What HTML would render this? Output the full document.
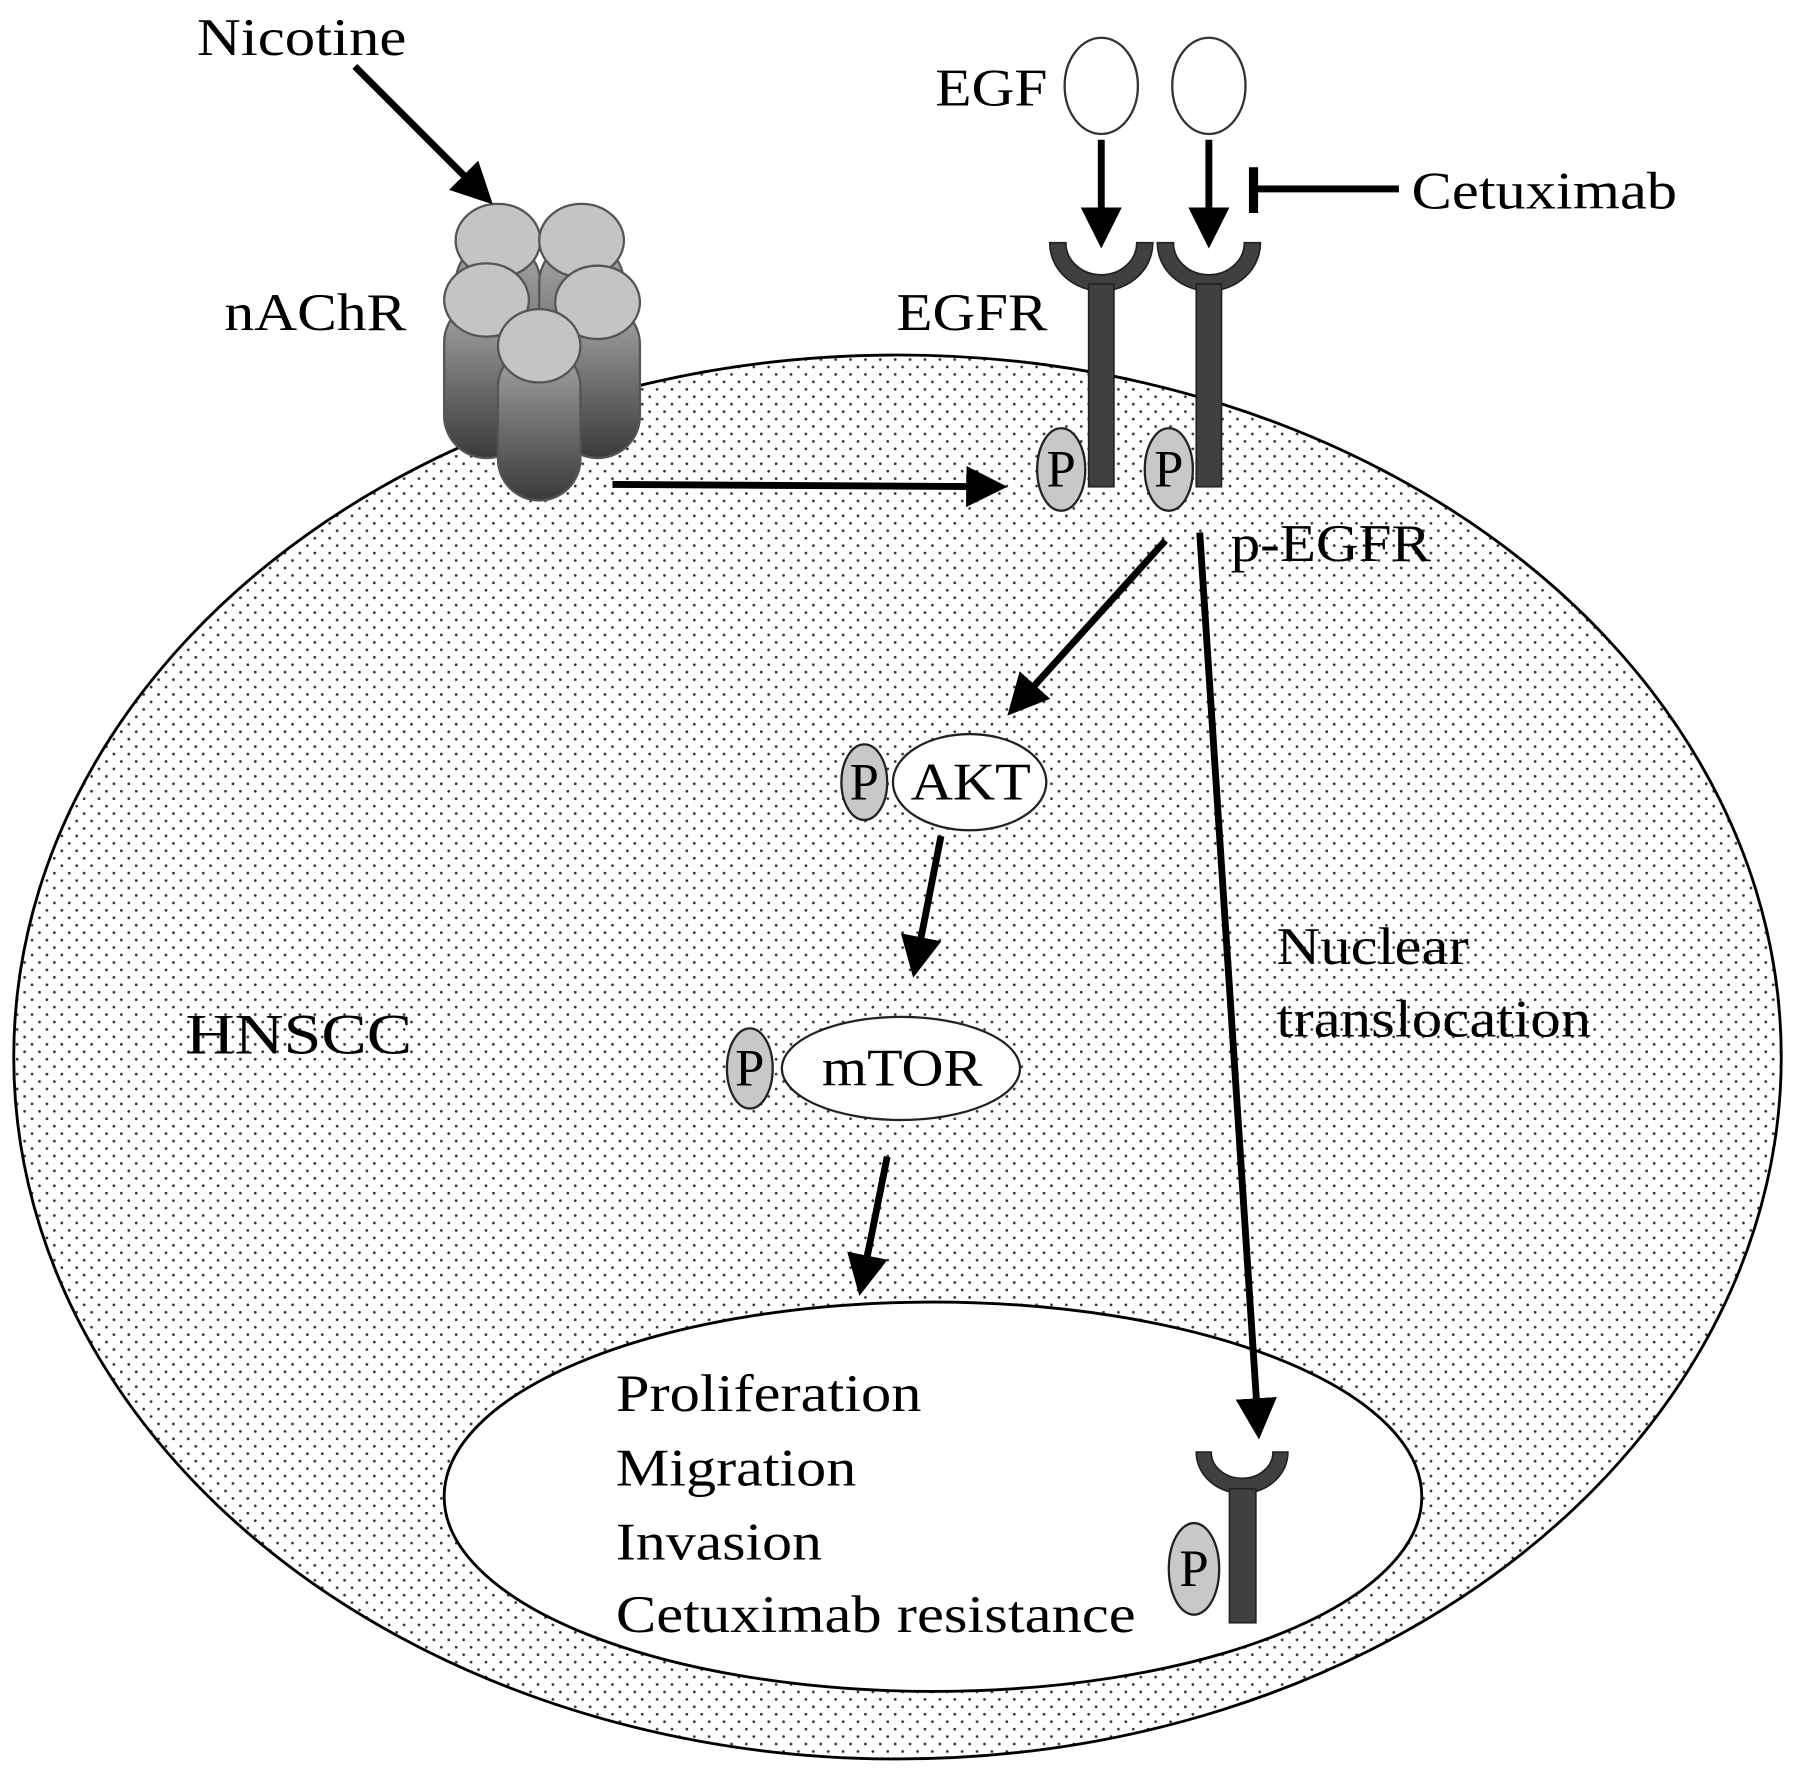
<!DOCTYPE html>
<html><head><meta charset="utf-8"><style>html,body{margin:0;padding:0;background:#fff}svg{display:block}</style></head>
<body>
<svg width="1795" height="1775" viewBox="0 0 1568 1550" preserveAspectRatio="none" xmlns="http://www.w3.org/2000/svg" font-family="Liberation Serif, serif">
<defs>
<pattern id="dots" width="13" height="13" patternUnits="userSpaceOnUse">
<circle cx="2" cy="2" r="1.2" fill="#333"/><circle cx="8.5" cy="8.5" r="1.2" fill="#333"/>
</pattern>
<linearGradient id="cyl" x1="0" y1="0" x2="0" y2="1">
<stop offset="0" stop-color="#a8a8a8"/><stop offset="1" stop-color="#3a3a3a"/>
</linearGradient>
<marker id="ah" markerWidth="6" markerHeight="6" refX="4" refY="3" orient="auto" markerUnits="strokeWidth">
<path d="M0,0 L6,3 L0,6 z" fill="#000"/>
</marker>
</defs>
<ellipse cx="784" cy="923" rx="772" ry="613" fill="url(#dots)" stroke="#000" stroke-width="2.5"/>
<ellipse cx="815" cy="1307" rx="427" ry="170" fill="#fff" stroke="#000" stroke-width="2.5"/>

<!-- nAChR cylinders -->
<g stroke="#555" stroke-width="2">
<rect x="398" y="210" width="74" height="185" rx="37" fill="url(#cyl)"/>
<rect x="471" y="210" width="74" height="185" rx="37" fill="url(#cyl)"/>
<ellipse cx="435" cy="210" rx="37" ry="32" fill="#c4c4c4"/>
<ellipse cx="508" cy="210" rx="37" ry="32" fill="#c4c4c4"/>
<rect x="388" y="262" width="74" height="138" rx="37" fill="url(#cyl)"/>
<rect x="485" y="264" width="74" height="136" rx="37" fill="url(#cyl)"/>
<ellipse cx="425" cy="262" rx="37" ry="32" fill="#c4c4c4"/>
<ellipse cx="522" cy="264" rx="37" ry="32" fill="#c4c4c4"/>
<rect x="435" y="302" width="72" height="135" rx="36" fill="url(#cyl)"/>
<ellipse cx="471" cy="302" rx="36" ry="32" fill="#c4c4c4"/>
</g>

<g font-size="46" fill="#000" lengthAdjust="spacingAndGlyphs">
<text x="172" y="48" textLength="183" lengthAdjust="spacingAndGlyphs">Nicotine</text>
<text x="196" y="288" textLength="159" lengthAdjust="spacingAndGlyphs">nAChR</text>
<text x="817" y="92" textLength="98" lengthAdjust="spacingAndGlyphs">EGF</text>
<text x="783" y="288" textLength="132" lengthAdjust="spacingAndGlyphs">EGFR</text>
<text x="1233" y="182" textLength="232" lengthAdjust="spacingAndGlyphs">Cetuximab</text>
<text x="1075" y="490" textLength="175" lengthAdjust="spacingAndGlyphs">p-EGFR</text>
<text x="1115" y="842" textLength="168" lengthAdjust="spacingAndGlyphs">Nuclear</text>
<text x="1115" y="905" textLength="275" lengthAdjust="spacingAndGlyphs">translocation</text>
<text x="162" y="920" font-size="50" textLength="198" lengthAdjust="spacingAndGlyphs">HNSCC</text>
<text x="538" y="1232" textLength="267" lengthAdjust="spacingAndGlyphs">Proliferation</text>
<text x="538" y="1297" textLength="210" lengthAdjust="spacingAndGlyphs">Migration</text>
<text x="538" y="1362" textLength="180" lengthAdjust="spacingAndGlyphs">Invasion</text>
<text x="538" y="1425" textLength="454" lengthAdjust="spacingAndGlyphs">Cetuximab resistance</text>
</g>

<ellipse cx="962" cy="75" rx="32" ry="42" fill="#fff" stroke="#333" stroke-width="2"/>
<ellipse cx="1056" cy="75" rx="32" ry="42" fill="#fff" stroke="#333" stroke-width="2"/>

<g stroke="#000" stroke-width="6" fill="none">
<line x1="310" y1="58" x2="422" y2="170" marker-end="url(#ah)"/>
<line x1="535" y1="423" x2="868" y2="425" marker-end="url(#ah)"/>
<line x1="962" y1="122" x2="962" y2="205" marker-end="url(#ah)"/>
<line x1="1056" y1="122" x2="1056" y2="205" marker-end="url(#ah)"/>
<line x1="1222" y1="165" x2="1095" y2="165"/>
<line x1="1095" y1="146" x2="1095" y2="186" stroke-width="8"/>
<line x1="1018" y1="472" x2="888" y2="616" marker-end="url(#ah)"/>
<line x1="1048" y1="465" x2="1099" y2="1245" marker-end="url(#ah)"/>
<line x1="822" y1="730" x2="800" y2="842" marker-end="url(#ah)"/>
<line x1="775" y1="1010" x2="753" y2="1120" marker-end="url(#ah)"/>
</g>

<g fill="#404040" stroke="#222" stroke-width="1.5">
<path d="M917,212 A45,42 0 0 0 1007,212 L993,212 A31,28 0 0 1 931,212 Z"/>
<rect x="951" y="248" width="22" height="177"/>
<path d="M1011,212 A45,42 0 0 0 1101,212 L1087,212 A31,28 0 0 1 1025,212 Z"/>
<rect x="1045" y="248" width="22" height="177"/>
<path d="M1045,1268 A40,36 0 0 0 1125,1268 L1112,1268 A27,23 0 0 1 1058,1268 Z"/>
<rect x="1074" y="1300" width="23" height="117"/>
</g>

<g stroke="#222" stroke-width="2" fill="#c8c8c8">
<ellipse cx="927" cy="410" rx="21" ry="36"/>
<ellipse cx="1021" cy="410" rx="21" ry="36"/>
<ellipse cx="755" cy="683" rx="20" ry="33"/>
<ellipse cx="655" cy="933" rx="20" ry="35"/>
<ellipse cx="1043" cy="1370" rx="22" ry="40"/>
<ellipse cx="847" cy="683" rx="67" ry="42" fill="#fff"/>
<ellipse cx="787" cy="933" rx="104" ry="45" fill="#fff"/>
</g>
<g font-size="46" fill="#000" text-anchor="middle">
<text x="927" y="425">P</text>
<text x="1021" y="425">P</text>
<text x="755" y="698">P</text>
<text x="655" y="948">P</text>
<text x="1043" y="1385">P</text>
<text x="848" y="698" textLength="105" lengthAdjust="spacingAndGlyphs">AKT</text>
<text x="788" y="948" textLength="140" lengthAdjust="spacingAndGlyphs">mTOR</text>
</g>
</svg>
</body></html>
